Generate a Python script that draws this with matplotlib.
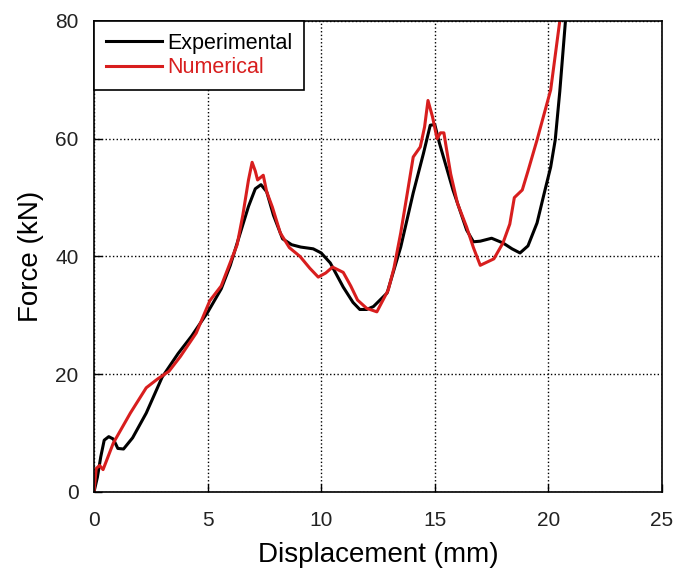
import matplotlib
matplotlib.use("Agg")
import matplotlib.pyplot as plt

plt.rcParams['font.family'] = ['Liberation Sans', 'DejaVu Sans']

# Experimental force-displacement response
exp_disp = [0, 0.15, 0.3, 0.45, 0.65, 0.85, 1.05, 1.3, 1.7, 2.3, 3.0, 3.7, 4.3,
            5.0, 5.6, 6.0, 6.4, 6.8, 7.1, 7.35, 7.6, 7.9, 8.3, 8.7, 9.1, 9.65,
            10.0, 10.4, 10.97, 11.4, 11.7, 12.0, 12.3, 12.9, 13.5, 14.05, 14.5,
            14.8, 15.0, 15.2, 15.8, 16.4, 16.7, 17.0, 17.5, 18.0, 18.4, 18.75,
            19.1, 19.5, 19.8, 20.1, 20.3, 20.5, 20.75]
exp_force = [0, 2.5, 6, 8.8, 9.4, 9.0, 7.4, 7.3, 9.2, 13.4, 19.5, 23.5, 26.5,
             30.5, 34.5, 38.5, 43.5, 48.5, 51.5, 52.2, 51, 47, 43, 42, 41.6, 41.3,
             40.6, 38.9, 34.8, 32.2, 31.0, 31.0, 31.5, 33.8, 41.6, 50.8, 57.5,
             62.3, 62.4, 59.3, 51.3, 44.5, 42.5, 42.6, 43.1, 42.3, 41.3, 40.6,
             41.8, 45.7, 50.5, 55.2, 59.8, 68, 80]

# Numerical (simulated) force-displacement response
num_disp = [0, 0.1, 0.25, 0.4, 0.85, 1.6, 2.3, 2.8, 3.3, 3.8, 4.5, 5.1, 5.6,
            6.0, 6.3, 6.55, 6.8, 6.96, 7.1, 7.2, 7.45, 7.6, 7.85, 8.2, 8.6,
            9.07, 9.5, 9.87, 10.2, 10.5, 10.97, 11.3, 11.6, 12.0, 12.45, 12.95,
            13.2, 13.5, 13.8, 14.05, 14.36, 14.55, 14.7, 14.9, 15.1, 15.25,
            15.4, 15.5, 15.7, 16.0, 16.4, 16.7, 17.0, 17.6, 18.0, 18.3, 18.5,
            18.85, 19.1, 19.5, 20.1, 20.5]
num_force = [0, 4, 4.5, 3.8, 8.3, 13.4, 17.7, 19.2, 20.5, 23, 27, 32.5, 35,
             39, 42, 47, 53, 56, 54.5, 53, 53.8, 51, 48.4, 44, 41.5,
             40, 38.0, 36.5, 37.2, 38.2, 37.3, 35, 32.6, 31.2, 30.6, 34.3,
             38, 44, 51, 56.9, 58.6, 62, 66.5, 63.7, 60, 61,
             61, 58.6, 54, 49, 45, 41.5, 38.5, 39.6, 42.3, 45.5, 50,
             51.3, 54.5, 59.8, 68.3, 80]

x_ticks = [0, 5, 10, 15, 20, 25]
y_ticks = [0, 20, 40, 60, 80]

RED = '#d81e1e'

fig = plt.figure(figsize=(6.79, 5.78), dpi=100)
ax = fig.add_axes([0.1384, 0.1488, 0.975 - 0.1384, 0.9637 - 0.1488])

ax.plot(exp_disp, exp_force, color='black', lw=2.2, label='Experimental')
ax.plot(num_disp, num_force, color=RED, lw=2.2, label='Numerical')

ax.set_xlim(0, 25)
ax.set_ylim(0, 80)
ax.set_xticks(x_ticks)
ax.set_yticks(y_ticks)
ax.tick_params(direction='in', length=6, width=1, labelsize=15,
               labelcolor='#222222')
ax.tick_params(axis='x', pad=14)
ax.tick_params(axis='y', pad=11)
ax.grid(True, color='black', linestyle=':', linewidth=1)
for s in ax.spines.values():
    s.set_linewidth(1.2)

ax.set_xlabel('Displacement (mm)', fontsize=20, labelpad=8)
ax.set_ylabel('Force (kN)', fontsize=20, labelpad=8)

leg = ax.legend(loc='upper left', fontsize=15.5, frameon=True, fancybox=False,
                borderaxespad=0, handlelength=2.6, handletextpad=0.25,
                labelspacing=0.15, borderpad=0.55)
leg.get_frame().set_edgecolor('black')
leg.get_frame().set_linewidth(1.2)
leg.get_frame().set_alpha(1)
leg.get_texts()[1].set_color(RED)

fig.savefig('out.png', dpi=100)
